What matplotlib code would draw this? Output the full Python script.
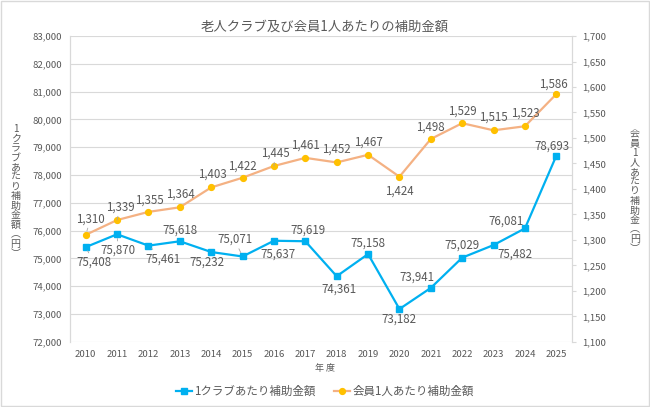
import matplotlib
matplotlib.use('Agg')
import matplotlib.pyplot as plt
from matplotlib.patches import Rectangle
from matplotlib.ticker import FuncFormatter, MultipleLocator

### DATA
years = [str(y) for y in range(2010, 2026)]
per_club = [75408, 75870, 75461, 75618, 75232, 75071, 75637, 75619,
            74361, 75158, 73182, 73941, 75029, 75482, 76081, 78693]
per_member = [1310, 1339, 1355, 1364, 1403, 1422, 1445, 1461,
              1452, 1467, 1424, 1498, 1529, 1515, 1523, 1586]

title = '老人クラブ及び会員1人あたりの補助金額'
xlabel = '年 度'
ylabel_left = '1クラブあたり補助金額︵円︶'
ylabel_right = '会員1人あたり補助金︵円︶'
name_club = '1クラブあたり補助金額'
name_member = '会員1人あたり補助金額'

### LABEL OFFSETS (pixels, x right / y up) and leader-line flags
club_off = [(8, -15), (1, -16), (15, -13), (0, 11), (-4, -10), (-8, 17), (4, -13), (3, 11),
            (2, -13), (0, 11), (-1, -10), (-14, 11), (0, 13), (21, -9), (-19, 7), (-4, 10)]
club_lead = [1, 1, 1, 0, 0, 1, 0, 0, 0, 0, 0, 0, 0, 0, 0, 0]
member_off = [(5, 16), (3, 13), (1, 12), (1, 13), (1, 13), (0, 12), (1, 13), (0, 13),
              (0, 13), (0, 13), (0, -14), (0, 12), (0, 12), (0, 13), (0, 13), (-3, 10)]
member_lead = [1, 1, 0, 0, 0, 0, 1, 0, 0, 0, 0, 0, 0, 0, 0, 0]

### STYLE
plt.rcParams['font.family'] = ['Noto Sans CJK JP', 'DejaVu Sans']
txt = '#595959'
grid = '#D9D9D9'
blue = '#00B0F0'
orange_line = '#F4B183'
orange_mk = '#FFC000'
lead = dict(arrowstyle='-', color='#A6A6A6', lw=0.6, shrinkA=0, shrinkB=3)

fig = plt.figure(figsize=(6.5, 4.07), dpi=100)
ax = fig.add_axes([0.1077, 0.16, 0.7723, 0.7515])
ax2 = ax.twinx()

x = list(range(len(years)))

### LINES
ax.plot(x, per_club, color=blue, lw=1.6, marker='s', ms=4.2, mfc=blue, mec=blue,
        label=name_club, zorder=3)
ax2.plot(x, per_member, color=orange_line, lw=1.6, marker='o', ms=4.2, mfc=orange_mk,
         mec=orange_mk, label=name_member, zorder=3)

fmt = FuncFormatter(lambda v, p: '{:,.0f}'.format(v))

for i, v in enumerate(per_club):
    ax.annotate('{:,}'.format(v), (i, v), xytext=club_off[i], textcoords='offset pixels',
                ha='center', va='center', fontsize=8.3, color=txt,
                arrowprops=lead if club_lead[i] else None)
for i, v in enumerate(per_member):
    ax2.annotate('{:,}'.format(v), (i, v), xytext=member_off[i], textcoords='offset pixels',
                 ha='center', va='center', fontsize=8.3, color=txt,
                 arrowprops=lead if member_lead[i] else None)

### AXES
ax.set_xlim(-0.5, len(years) - 0.5)
ax.set_ylim(72000, 83000)
ax2.set_ylim(1100, 1700)
ax.yaxis.set_major_locator(MultipleLocator(1000))
ax2.yaxis.set_major_locator(MultipleLocator(50))
ax.yaxis.set_major_formatter(fmt)
ax2.yaxis.set_major_formatter(fmt)
ax.set_xticks(x)
ax.set_xticklabels(years)

ax.grid(axis='y', color=grid, lw=0.8)
ax.set_axisbelow(True)
for a in (ax, ax2):
    for s in ('top', 'bottom'):
        a.spines[s].set_visible(False)
    a.spines['left'].set_color(grid)
    a.spines['right'].set_color(grid)
ax.tick_params(axis='x', length=0, labelsize=6.9, labelcolor=txt, pad=6)
ax.tick_params(axis='y', length=0, labelsize=6.9, labelcolor=txt, pad=6)
ax2.tick_params(axis='y', length=3, color=grid, labelsize=6.9, labelcolor=txt, pad=4)

### TEXTS
fig.text(0.5, 0.935, title, ha='center', va='center', fontsize=9.6, color=txt)
fig.text(0.5, 0.095, xlabel, ha='center', va='center', fontsize=6.5, color=txt)
fig.text(0.024, 0.53, '\n'.join(ylabel_left), ha='center', va='center', fontsize=7.2,
         color=txt, linespacing=0.95)
fig.text(0.977, 0.53, '\n'.join(ylabel_right), ha='center', va='center', fontsize=7.2,
         color=txt, linespacing=0.95)

h1, l1 = ax.get_legend_handles_labels()
h2, l2 = ax2.get_legend_handles_labels()
leg = fig.legend(h1 + h2, l1 + l2, loc='center', bbox_to_anchor=(0.5, 0.038), ncol=2,
                 frameon=False, fontsize=8.3, handlelength=1.4, columnspacing=1.6,
                 handletextpad=0.2)
for t in leg.get_texts():
    t.set_color(txt)

fig.patches.append(Rectangle((0.001, 0.002), 0.997, 0.996, transform=fig.transFigure,
                             fill=False, edgecolor=grid, lw=1))

fig.savefig('out.png', dpi=100)
